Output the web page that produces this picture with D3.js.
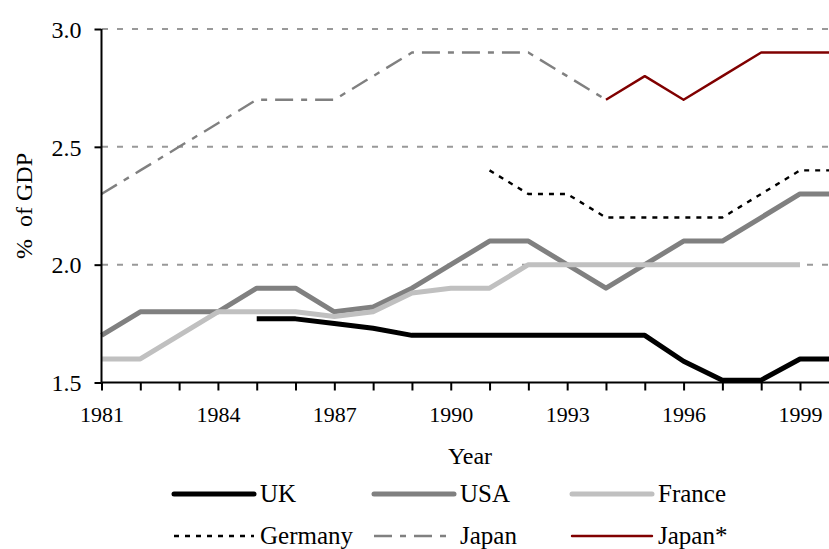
<!DOCTYPE html>
<html><head><meta charset="utf-8">
<script src="https://cdn.jsdelivr.net/npm/d3@7"></script>
<style>body{margin:0;background:#fff}svg{display:block}text{font-family:"Liberation Serif","Times New Roman",serif;fill:#000}</style>
</head><body><svg id="c" width="829" height="549"></svg>
<script>
const years = d3.range(1981, 2001);
const tickLabels = [1981, 1984, 1987, 1990, 1993, 1996, 1999];
const yTicks = [1.5, 2.0, 2.5, 3.0];
const ukYears = [1985,1986,1987,1988,1989,1990,1991,1992,1993,1994,1995,1996,1997,1998,1999,2000];
const ukValues = [1.77,1.77,1.75,1.73,1.70,1.70,1.70,1.70,1.70,1.70,1.70,1.59,1.51,1.51,1.60,1.60];
const usaYears = [1981,1982,1983,1984,1985,1986,1987,1988,1989,1990,1991,1992,1993,1994,1995,1996,1997,1998,1999,2000];
const usaValues = [1.70,1.80,1.80,1.80,1.90,1.90,1.80,1.82,1.90,2.00,2.10,2.10,2.00,1.90,2.00,2.10,2.10,2.20,2.30,2.30];
const franceYears = [1981,1982,1983,1984,1985,1986,1987,1988,1989,1990,1991,1992,1993,1994,1995,1996,1997,1998,1999];
const franceValues = [1.60,1.60,1.70,1.80,1.80,1.80,1.78,1.80,1.88,1.90,1.90,2.00,2.00,2.00,2.00,2.00,2.00,2.00,2.00];
const germanyYears = [1991,1992,1993,1994,1995,1996,1997,1998,1999,2000];
const germanyValues = [2.40,2.30,2.30,2.20,2.20,2.20,2.20,2.30,2.40,2.40];
const japanYears = [1981,1982,1983,1984,1985,1986,1987,1988,1989,1990,1991,1992,1993,1994];
const japanValues = [2.30,2.40,2.50,2.60,2.70,2.70,2.70,2.80,2.90,2.90,2.90,2.90,2.80,2.70];
const japan2Years = [1994,1995,1996,1997,1998,1999,2000];
const japan2Values = [2.70,2.80,2.70,2.80,2.90,2.90,2.90];

const series = [
  {name:"UK", xs:ukYears, ys:ukValues, color:"#000000", width:5, dash:null},
  {name:"USA", xs:usaYears, ys:usaValues, color:"#808080", width:5, dash:null},
  {name:"France", xs:franceYears, ys:franceValues, color:"#c0c0c0", width:5, dash:null},
  {name:"Germany", xs:germanyYears, ys:germanyValues, color:"#000000", width:2.4, dash:"5,6"},
  {name:"Japan", xs:japanYears, ys:japanValues, color:"#808080", width:2.4, dash:"18,8,6,8"},
  {name:"Japan*", xs:japan2Years, ys:japan2Values, color:"#800000", width:2.4, dash:null}
];

const svg = d3.select("#c");
const x = d3.scaleLinear().domain([1981, 2000]).range([101.5, 838.8]);
const y = d3.scaleLinear().domain([1.5, 3.0]).range([382.5, 29]);

// grid
svg.append("g").selectAll("line").data(yTicks.filter(v => v > 1.5)).join("line")
  .attr("x1", 102).attr("x2", 829).attr("y1", d => y(d)).attr("y2", d => y(d))
  .attr("stroke", "#999").attr("stroke-width", 2).attr("stroke-dasharray", "6,9");

// lines
const line = d3.line().x(d => x(d[0])).y(d => y(d[1]));
series.forEach(s => {
  svg.append("path").datum(s.xs.map((v, i) => [v, s.ys[i]]))
    .attr("d", line).attr("fill", "none").attr("stroke", s.color)
    .attr("stroke-width", s.width).attr("stroke-linejoin", "round")
    .attr("stroke-dasharray", s.dash);
});

// axes
const xAxis = d3.axisBottom(x).tickValues(years).tickSize(8)
  .tickFormat(d => tickLabels.includes(d) ? d : "");
const gx = svg.append("g").attr("transform", `translate(0,${y(1.5)})`).call(xAxis);
gx.select(".domain").attr("stroke", "#000").attr("stroke-width", 2).attr("d", "M101.5,0H829");
gx.selectAll(".tick line").attr("stroke", "#000").attr("stroke-width", 2);
gx.selectAll(".tick text").attr("font-size", 22).attr("y", 24).attr("dy", "0.71em")
  .style("font-family", '"Liberation Serif",serif');

const yAxis = d3.axisLeft(y).tickValues(yTicks).tickSize(7).tickFormat(d3.format(".1f"));
const gy = svg.append("g").attr("transform", `translate(${x(1981)},0)`).call(yAxis);
gy.select(".domain").attr("stroke", "#000").attr("stroke-width", 2).attr("d", `M0,${y(3.0)}V${y(1.5)}`);
gy.selectAll(".tick line").attr("stroke", "#000").attr("stroke-width", 2);
gy.selectAll(".tick text").attr("font-size", 24).attr("x", -20).attr("dy", "0.34em")
  .style("font-family", '"Liberation Serif",serif');

// axis titles
svg.append("text").attr("x", 470).attr("y", 464).attr("text-anchor", "middle")
  .attr("font-size", 24).text("Year");
svg.append("text").attr("transform", "translate(32,206) rotate(-90)")
  .attr("text-anchor", "middle").attr("font-size", 24).style("white-space", "pre")
  .text("%  of GDP");

// legend
const legendPos = [[172,494],[372,494],[570,494],[172,536],[372,536],[570,536]];
series.forEach((s, i) => {
  const [lx, ly] = legendPos[i];
  svg.append("line").attr("x1", lx + 2).attr("x2", lx + 82).attr("y1", ly).attr("y2", ly)
    .attr("stroke", s.color).attr("stroke-width", s.width)
    .attr("stroke-dasharray", s.dash).attr("stroke-linecap", s.dash ? "butt" : "round");
  svg.append("text").attr("x", lx + 88).attr("y", ly + 8).attr("font-size", 25).text(s.name);
});
</script></body></html>
